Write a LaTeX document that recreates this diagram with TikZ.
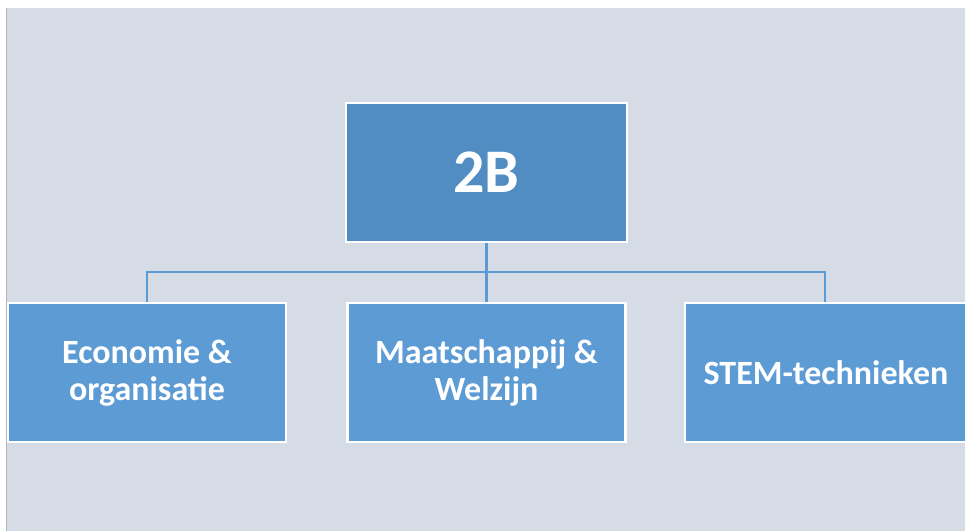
\documentclass[tikz,border=0pt]{standalone}
\usepackage{fontspec}
\setmainfont{Carlito}
\definecolor{bgc}{HTML}{D6DCE5}
\definecolor{topc}{HTML}{518DC3}
\definecolor{boxc}{HTML}{5D9BD5}
\definecolor{linec}{HTML}{5B9BD5}
\definecolor{edgec}{HTML}{B4B4BC}
\tikzset{
  topbox/.style={draw=white, line width=2.5pt, fill=topc, minimum width=281pt, minimum height=139pt, inner sep=0pt, text=white, font=\fontsize{62}{63}\selectfont\bfseries},
  childbox/.style={draw=white, line width=2.5pt, fill=boxc, minimum width=278pt, minimum height=139pt, inner sep=0pt, text=white, align=center, font=\fontsize{34}{37}\selectfont\bfseries},
  conn/.style={draw=linec, line width=2.5pt}
}
\begin{document}
\begin{tikzpicture}[x=1pt,y=-1pt]
\useasboundingbox (0,0) rectangle (965,531);
\fill[white] (0,0) rectangle (965,531);
\fill[bgc] (7,8) rectangle (965,531);
\draw[edgec, line width=1pt] (6.5,8) -- (6.5,531);
\node[topbox] (top) at (486.5,172.5) {2B};
\node[childbox] (left) at (147,372.5) {Economie \&\\organisatie};
\node[childbox] (mid) at (486.5,372.5) {Maatschappij \&\\Welzijn};
\node[childbox, minimum width=282pt] (right) at (826,372.5) {STEM-technieken};
\coordinate (j) at (486.5,272);
\draw[conn] (top.south) -- (mid.north);
\draw[conn] (left.north) |- (j) -| ([xshift=-1pt]right.north);
\end{tikzpicture}
\end{document}
